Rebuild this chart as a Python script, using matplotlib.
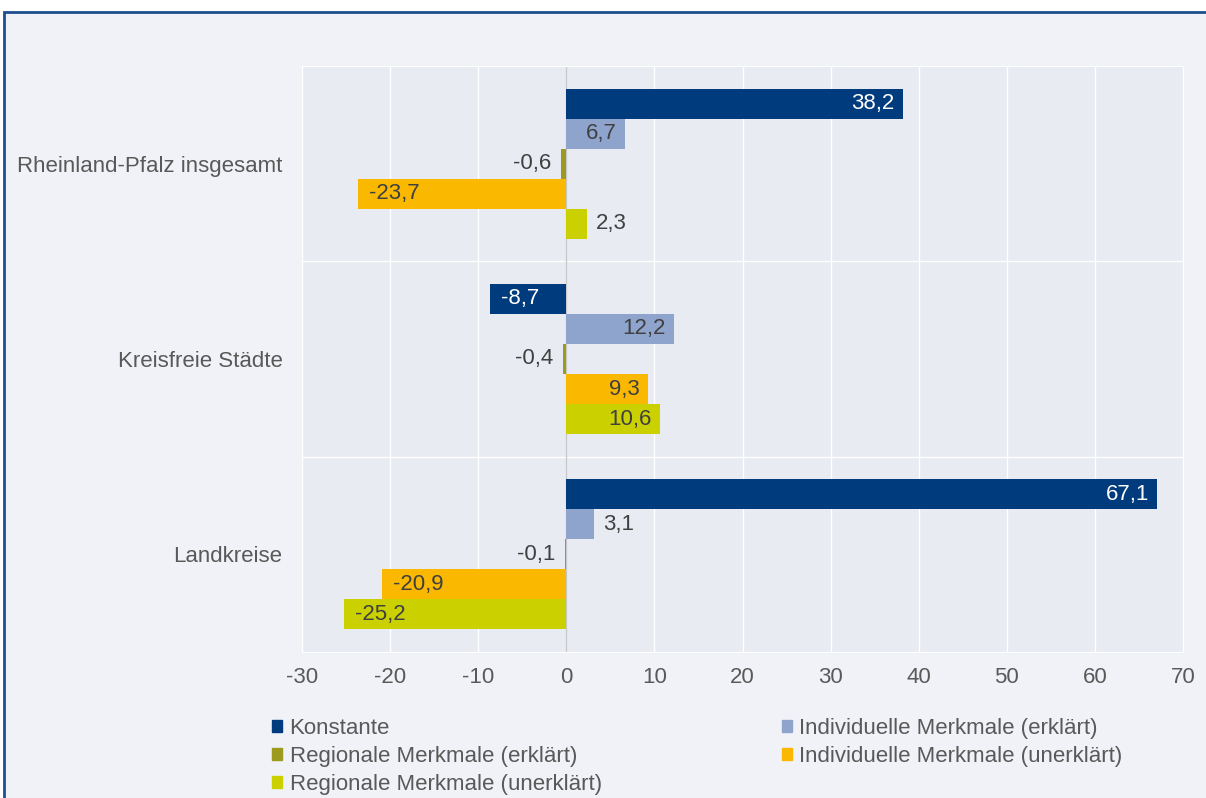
import matplotlib
matplotlib.use('Agg')
import matplotlib.pyplot as plt
from matplotlib.patches import Rectangle, Patch
import numpy as np

plt.rcParams['font.family'] = ['Liberation Sans', 'DejaVu Sans']

# data
categories = ['Rheinland-Pfalz insgesamt', 'Kreisfreie Städte', 'Landkreise']
series_names = ['Konstante', 'Individuelle Merkmale (erklärt)', 'Regionale Merkmale (erklärt)',
                'Individuelle Merkmale (unerklärt)', 'Regionale Merkmale (unerklärt)']
konstante = [38.2, -8.7, 67.1]
ind_erklaert = [6.7, 12.2, 3.1]
reg_erklaert = [-0.6, -0.4, -0.1]
ind_unerklaert = [-23.7, 9.3, -20.9]
reg_unerklaert = [2.3, 10.6, -25.2]
xticks = [-30, -20, -10, 0, 10, 20, 30, 40, 50, 60, 70]

series = [konstante, ind_erklaert, reg_erklaert, ind_unerklaert, reg_unerklaert]
colors = ['#003B7D', '#8FA4CD', '#9C9A1F', '#FBB800', '#CBD100']
label_colors = ['white', '#404040', '#404040', '#404040', '#404040']
FS = 16

fig = plt.figure(figsize=(12.06, 7.98), dpi=100, facecolor='white')

# outer frame (only top/left border visible)
fig.patches.append(Rectangle((4 / 1206, -0.1), 2, (798 - 12) / 798 + 0.1,
                             transform=fig.transFigure, facecolor='#F0F2F7',
                             edgecolor='#1F4E8C', lw=2, zorder=-10))

ax = fig.add_axes([302 / 1206, 1 - 652 / 798, (1183 - 302) / 1206, (652 - 66) / 798])
ax.set_facecolor('#E8EBF2')

h = 0.768 / 5
y = np.arange(len(categories))
for j, (vals, col) in enumerate(zip(series, colors)):
    pos = y + (j - 2) * h
    ax.barh(pos, vals, height=h, color=col, zorder=3)
    for yy, v in zip(pos, vals):
        txt = f'{v:.1f}'.replace('.', ',')
        if abs(v) >= 5:  # label inside the bar end
            off = -6 if v > 0 else 8
            ha = 'right' if v > 0 else 'left'
            c = label_colors[j]
        else:  # small bars: label outside
            off = 7 if v > 0 else -7
            ha = 'left' if v > 0 else 'right'
            c = '#404040'
        ax.annotate(txt, (v, yy), xytext=(off, 0), textcoords='offset points',
                    ha=ha, va='center', fontsize=FS, color=c, zorder=4)

ax.set_xlim(-30, 70)
ax.set_ylim(2.5, -0.5)
ax.set_xticks(xticks)
ax.set_xticklabels([str(t) for t in xticks])
ax.set_yticks(y)
ax.set_yticklabels(categories)
ax.set_yticks([0.5, 1.5], minor=True)
ax.grid(axis='x', color='white', lw=1, zorder=0)
ax.grid(axis='y', which='minor', color='white', lw=1, zorder=0)
ax.axvline(0, color='#C8C8C8', lw=1, zorder=2)
ax.tick_params(axis='both', which='both', length=0, labelsize=FS, colors='#595959')
ax.tick_params(axis='x', pad=11)
ax.tick_params(axis='y', pad=14)
for s in ax.spines.values():
    s.set_color('white')

handles = [Patch(color=c) for c in colors]
order = [0, 2, 4, 1, 3]
fig.legend([handles[i] for i in order], [series_names[i] for i in order],
           ncol=2, loc='upper left', bbox_to_anchor=(254 / 1206, 1 - 700 / 798),
           frameon=False, fontsize=FS, handlelength=0.45, handleheight=0.5,
           handletextpad=0.35, columnspacing=8.1, labelspacing=0.32, borderpad=0.3,
           labelcolor='#595959')

fig.savefig('out.png', dpi=100, facecolor=fig.get_facecolor())
